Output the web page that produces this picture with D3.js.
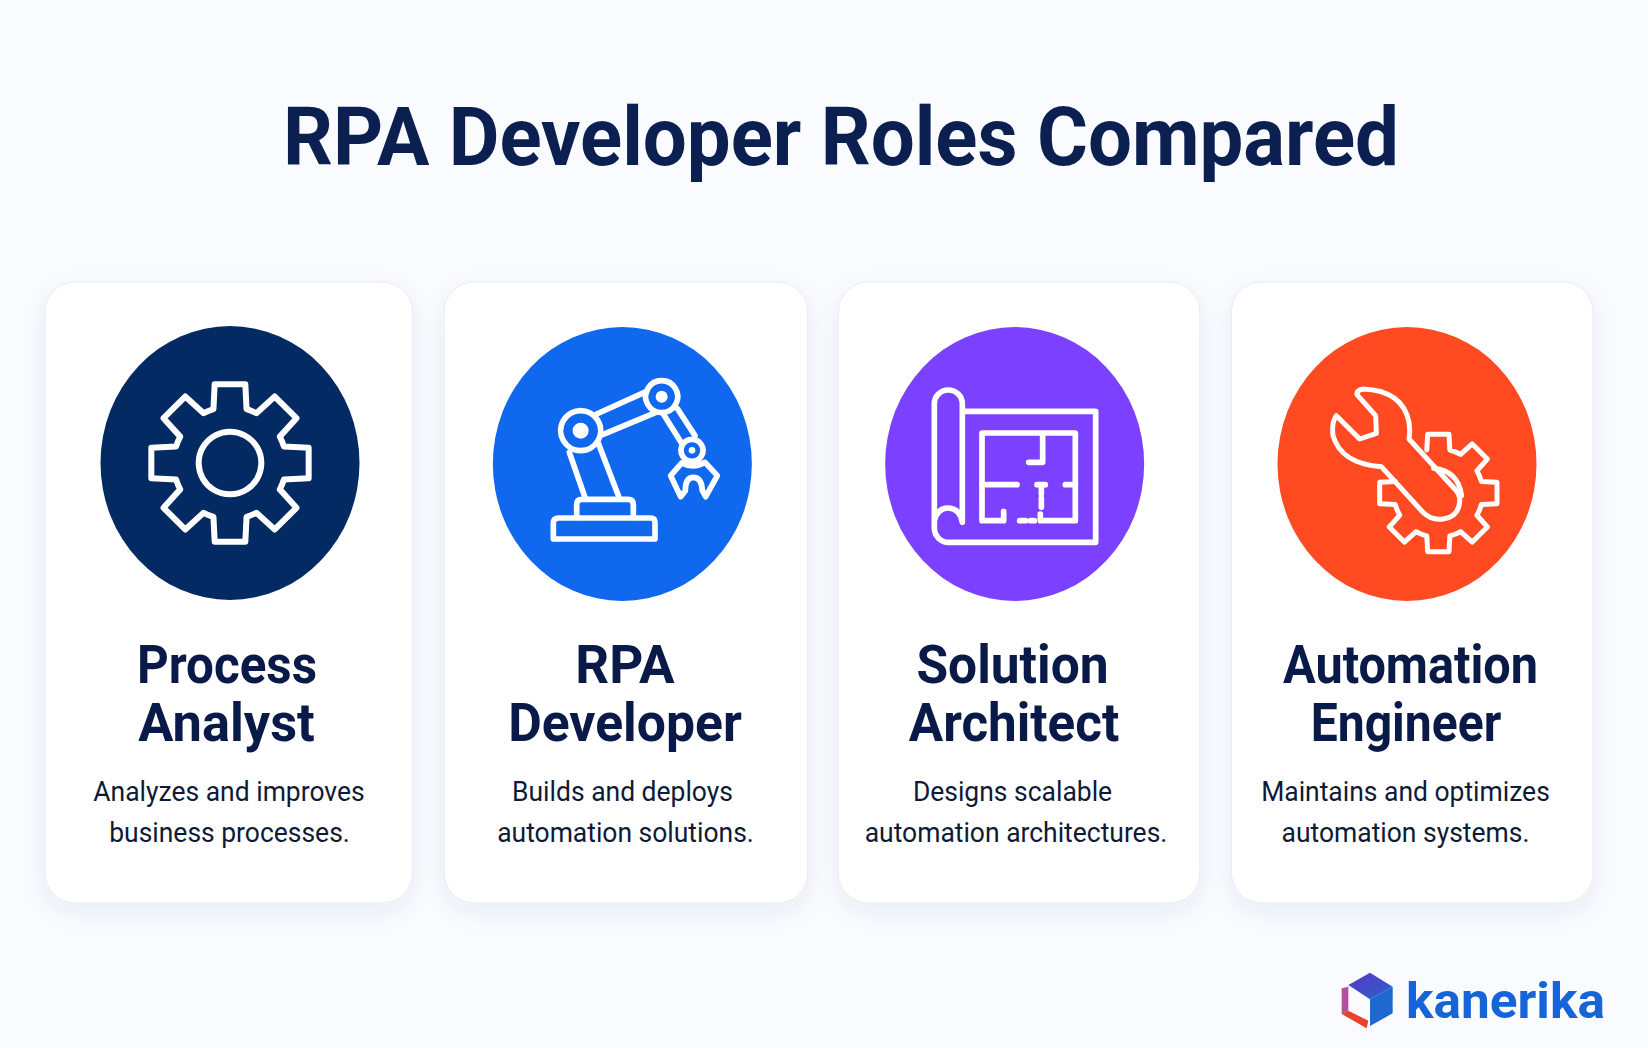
<!DOCTYPE html>
<html>
<head>
<meta charset="utf-8">
<style>
  html, body { margin: 0; padding: 0; background: #fafbff; }
  svg { display: block; }
  text { font-family: Roboto, sans-serif; text-anchor: middle; }
</style>
<script src="https://cdn.jsdelivr.net/npm/d3@7"></script>
</head>
<body>
<script>
const chartTitle = 'RPA Developer Roles Compared';
const roles = ['Process Analyst', 'RPA Developer', 'Solution Architect', 'Automation Engineer'];
const roleLines = [['Process', 'Analyst'], ['RPA', 'Developer'], ['Solution', 'Architect'], ['Automation', 'Engineer']];
const descLines = [
  ['Analyzes and improves', 'business processes.'],
  ['Builds and deploys', 'automation solutions.'],
  ['Designs scalable', 'automation architectures.'],
  ['Maintains and optimizes', 'automation systems.'],
];
const brand = 'kanerika';
const iconColors = ['#042a63', '#0f68ee', '#7c40ff', '#ff4a22'];

const width = 1648;
const height = 1048;

const svg = d3.select('body').append('svg')
  .attr('width', width)
  .attr('height', height);

const defs = svg.append('defs');
defs.append('filter')
  .attr('id', 'cardShadow')
  .attr('x', '-15%').attr('y', '-15%').attr('width', '130%').attr('height', '130%')
  .append('feDropShadow')
  .attr('dx', 0).attr('dy', 8).attr('stdDeviation', 11)
  .attr('flood-color', '#2a3a78').attr('flood-opacity', 0.07);

svg.append('rect')
  .attr('width', width).attr('height', height)
  .attr('fill', '#fafbff');

// the font is wider than the one in the picture, so squeeze text to fit
function squeeze(sel, factor) {
  sel.attr('lengthAdjust', 'spacingAndGlyphs')
    .attr('textLength', function() { return this.getComputedTextLength() * factor; });
}

// cards sit on a band scale, the picture is a few pixels uneven so they get nudged
const cardX = d3.scaleBand().domain(roles).range([45, 1592]).paddingInner(0.085);
const cardNudge = [0, 4, 3, 1];
const cardGrow = [6, 2, 0, 0];
const iconX = d3.scalePoint().domain(roles).range([230, 1407]);
const iconNudgeY = [-1, 0, 0, 0];
const textX = d3.scalePoint().domain(roles).range([228, 1407]);
const roleNudge = [[-1, -1.5], [4, 4], [-1.5, 0], [3.5, -1]];
const descNudge = [[1, 1.5], [1.5, 4.5], [-1.5, 2], [-1.5, -1.5]];
const roleSqueeze = [[0.914, 0.97], [0.98, 0.957], [0.953, 0.948], [0.9, 0.89]];
const lineY = d3.scaleLinear().domain([0, 1]).range([683, 741]);
const descY = d3.scaleLinear().domain([0, 1]).range([801, 842]);

svg.append('text')
  .attr('x', 841).attr('y', 165)
  .attr('fill', '#0b2050')
  .attr('font-size', 82).attr('font-weight', 700)
  .text(chartTitle)
  .call(squeeze, 0.951);

const card = svg.selectAll('g.card')
  .data(roles)
  .join('g')
  .attr('class', 'card');

card.append('rect')
  .attr('x', (d, i) => cardX(d) + cardNudge[i])
  .attr('y', 282)
  .attr('width', (d, i) => cardX.bandwidth() + cardGrow[i])
  .attr('height', 621)
  .attr('rx', 30)
  .attr('fill', '#fff')
  .attr('stroke', '#e8eaf3')
  .attr('filter', 'url(#cardShadow)');

card.append('ellipse')
  .attr('cx', d => iconX(d))
  .attr('cy', (d, i) => 464 + iconNudgeY[i])
  .attr('rx', 129.5)
  .attr('ry', 137)
  .attr('fill', (d, i) => iconColors[i]);

card.each(function(d, i) {
  const g = d3.select(this);
  roleLines[i].forEach((line, k) => {
    g.append('text')
      .attr('x', textX(d) + roleNudge[i][k])
      .attr('y', lineY(k))
      .attr('fill', '#0a1a48')
      .attr('font-size', 54).attr('font-weight', 700)
      .text(line)
      .call(squeeze, roleSqueeze[i][k]);
  });
  descLines[i].forEach((line, k) => {
    g.append('text')
      .attr('x', textX(d) + descNudge[i][k])
      .attr('y', descY(k))
      .attr('fill', '#0e1a36')
      .attr('font-size', 28)
      .text(line)
      .call(squeeze, 0.945);
  });
});

// gear outline, teeth first then root arcs, centred on cx, cy
function gearPath(cx, cy, teeth, rTip, rRoot, hw, from = 0, to = teeth) {
  const step = 2 * Math.PI / teeth;
  const pt = (a, lx, ly) => [
    cx + lx * Math.cos(a) - ly * Math.sin(a),
    cy + lx * Math.sin(a) + ly * Math.cos(a),
  ];
  const rBase = Math.sqrt(rRoot * rRoot - hw * hw);
  let p = '';
  for (let i = from; i < to; i++) {
    const a = i * step;
    const b1 = pt(a, -hw * 1.08, -rBase);
    const t1 = pt(a, -hw, -rTip);
    const t2 = pt(a, hw, -rTip);
    const b2 = pt(a, hw * 1.08, -rBase);
    p += `${i === from ? 'M' : 'L'}${b1}L${t1}L${t2}L${b2}`;
    if (i < to - 1 || to === teeth && from === 0) {
      const n = pt(a + step, -hw * 1.08, -rBase);
      p += `A${rRoot},${rRoot} 0 0 1 ${n}`;
    }
  }
  return p;
}

// icons are traced at 3x around their own centre
const icons = [
  {
    c: [690, 610],
    sw: 18,
    strokes: [
      gearPath(690, 610, 8, 236, 168, 46) + 'Z',
      'M690,516a94,94 0 1,0 0.01,0Z',
    ],
    dots: [],
  },
  {
    c: [517, 490],
    sw: 17,
    strokes: [
      'M326,652H602Q615,652 615,665V715H310V668Q310,652 326,652Z',
      'M380,650V612Q380,596 396,596H534Q550,596 550,612V650',
      'M405,590L358,455', 'M507,590L445,428',
      'M392,330a60,60 0 1,0 0.01,0Z',
      'M440,340L590,272', 'M458,402L618,335',
      'M635,240a48,48 0 1,0 0.01,0Z',
      'M640,340L695,428', 'M683,325L735,405',
      'M726,416a33,33 0 1,0 0.01,0Z',
      'M695,487L662,525L692,588L706,570Q706,530 730,530Q755,530 757,570L767,588L802,525L765,485Q730,505 695,487Z',
    ],
    dots: [[392, 390, 24], [635, 288, 18], [726, 449, 10]],
  },
  {
    c: [463, 490],
    sw: 17,
    strokes: [
      'M310,332H706V725H265A43,43 0 0 1 222,682V310A42,42 0 0 1 306,310V665Q298,622 262,622Q232,622 222,660',
      'M430,632V660H365V397H645V660H540V640',
      'M365,552H470', 'M505,485H547V400', 'M530,552H555', 'M615,552H645',
      'M543,560V580', 'M543,592V620',
      'M478,660H495', 'M510,660H522',
    ],
    dots: [],
  },
  {
    c: [472, 490],
    sw: 15,
    strokes: [
      gearPath(566, 577, 8, 176, 133, 32, 0, 7),
      'M552,503Q625,510 636,585',
      'M322,282L378,345L380,398L330,415L260,345Q245,365 250,405Q275,490 395,498L520,635Q545,660 580,655Q625,650 630,605Q632,585 618,568L478,415Q482,395 478,365Q460,270 340,265Q320,268 322,282Z',
    ],
    dots: [],
  },
];

const iconG = card.append('g')
  .attr('transform', (d, i) => `translate(${iconX(d)},${464 + iconNudgeY[i]}) scale(${1 / 3}) translate(${-icons[i].c[0]},${-icons[i].c[1]})`)
  .attr('stroke-width', (d, i) => icons[i].sw);

iconG.selectAll('path')
  .data((d, i) => icons[i].strokes)
  .join('path')
  .attr('d', d => d)
  .attr('fill', 'none')
  .attr('stroke', '#fff')
  .attr('stroke-linejoin', 'round')
  .attr('stroke-linecap', 'round');

iconG.selectAll('circle')
  .data((d, i) => icons[i].dots)
  .join('circle')
  .attr('cx', d => d[0]).attr('cy', d => d[1]).attr('r', d => d[2])
  .attr('fill', '#fff');

// logo, traced at 3x from the corner it sits in
const logo = svg.append('g').attr('transform', `translate(1300,950) scale(${1 / 3})`);
const grad = defs.append('linearGradient').attr('id', 'cubeTop').attr('x1', 0).attr('y1', 0).attr('x2', 1).attr('y2', 1);
grad.append('stop').attr('offset', 0).attr('stop-color', '#5a35c8');
grad.append('stop').attr('offset', 1).attr('stop-color', '#2a62c8');
logo.append('path').attr('d', 'M145,105L210,68L278,110L210,148Z').attr('fill', 'url(#cubeTop)');
logo.append('path').attr('d', 'M210,148L278,110V190L210,228Z').attr('fill', '#1f68cf');
logo.append('path').attr('d', 'M125,115L145,110V182L125,192Z').attr('fill', '#b4509f');
logo.append('path').attr('d', 'M125,192L145,182L205,212L200,235Z').attr('fill', '#e8432c');

svg.append('text')
  .attr('x', 1505.5).attr('y', 1018)
  .attr('fill', '#1565d8')
  .attr('font-family', 'Lato, sans-serif')
  .attr('font-size', 50).attr('font-weight', 700)
  .text(brand)
  .call(squeeze, 1.027);
</script>
</body>
</html>
